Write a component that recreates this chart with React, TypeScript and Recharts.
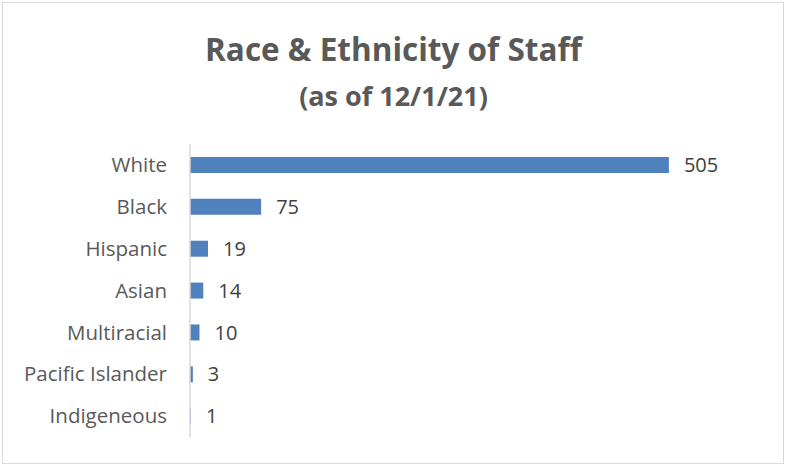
import { BarChart, Bar, XAxis, YAxis, LabelList } from 'recharts'

const categories = ['White', 'Black', 'Hispanic', 'Asian', 'Multiracial', 'Pacific Islander', 'Indigeneous']
const staffCounts = [505, 75, 19, 14, 10, 3, 1]

const data = categories.map((name, i) => ({ name, count: staffCounts[i] }))

const font = '"Open Sans", Lato, sans-serif'

export default function App() {
  return (
    <div style={{ position: 'absolute', left: 0, top: 0, width: 787, height: 471, background: '#fff', fontFamily: font }}>
      <div style={{ position: 'absolute', left: 2, top: 2, width: 780, height: 460, border: '1px solid #d9d9d9' }} />
      <div style={{ position: 'absolute', left: 0, top: 27, width: 787, textAlign: 'center', color: '#595959', fontWeight: 700, fontSize: 31.5 }}>
        Race &amp; Ethnicity of Staff
      </div>
      <div style={{ position: 'absolute', left: 0, top: 77, width: 787, textAlign: 'center', color: '#595959', fontWeight: 700, fontSize: 27 }}>
        (as of 12/1/21)
      </div>
      <div style={{ position: 'absolute', left: 0, top: 0 }}>
        <BarChart width={787} height={471} data={data} layout="vertical" margin={{ top: 144, right: 28, bottom: 34, left: 0 }}>
          <XAxis type="number" domain={[0, 600]} hide />
          <YAxis
            dataKey="name"
            type="category"
            width={190}
            tickLine={false}
            tickMargin={17}
            axisLine={{ stroke: '#d9d9d9', strokeWidth: 1.5 }}
            tick={{ fontSize: 20.5, fontFamily: font, fill: '#595959' }}
          />
          <Bar dataKey="count" fill="#4F81BD" barSize={16} isAnimationActive={false}>
            <LabelList dataKey="count" position="right" offset={15} style={{ fontSize: 20, fontFamily: font, fill: '#404040' }} />
          </Bar>
        </BarChart>
      </div>
    </div>
  )
}
